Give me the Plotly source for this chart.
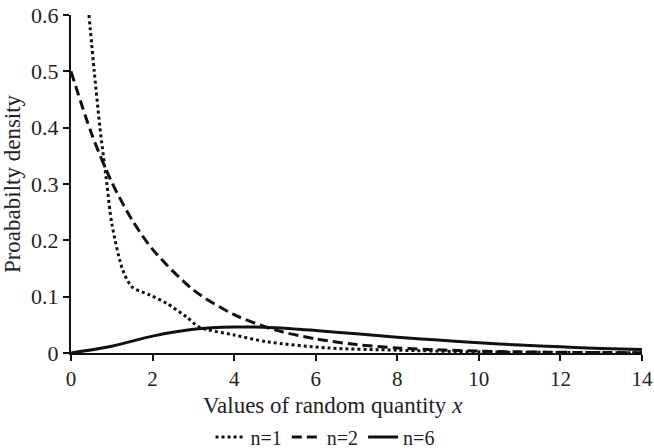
import plotly.graph_objects as go

# n=1 curve
x_n1 = [0.44, 0.57, 0.71, 0.88, 1.0, 1.27, 1.5, 1.93, 2.35, 2.83, 3.15, 4.0, 4.8, 6.3, 8.0, 10.0, 12.0, 14.0]
y_n1 = [0.6, 0.5, 0.4, 0.3, 0.23, 0.147, 0.117, 0.103, 0.088, 0.064, 0.046, 0.032, 0.02, 0.009, 0.005, 0.002, 0.001, 0.0005]

# n=2 curve
x_n2 = [0, 0.5, 1, 1.5, 2, 3, 4, 5, 6, 7, 8, 9, 10, 11, 12, 13, 14]
y_n2 = [0.5, 0.39, 0.303, 0.236, 0.184, 0.112, 0.068, 0.041, 0.025, 0.015, 0.009, 0.0056, 0.0034, 0.002, 0.0012, 0.0008, 0.0005]

# n=6 curve
x_n6 = [0, 1, 2, 3, 4, 5, 6, 7, 8, 9, 10, 11, 12, 13, 14]
y_n6 = [0, 0.012, 0.03, 0.042, 0.046, 0.045, 0.040, 0.034, 0.028, 0.023, 0.018, 0.014, 0.011, 0.008, 0.006]

x_ticks = [0, 2, 4, 6, 8, 10, 12, 14]
y_ticks = [0, 0.1, 0.2, 0.3, 0.4, 0.5, 0.6]
y_tick_labels = ["0", "0.1", "0.2", "0.3", "0.4", "0.5", "0.6"]

FONT = "Liberation Serif"

fig = go.Figure()
fig.add_trace(go.Scatter(x=x_n1, y=y_n1, mode="lines", name="n=1",
                         line=dict(color="#111", width=3, dash="dot", shape="spline", smoothing=0.8)))
fig.add_trace(go.Scatter(x=x_n2, y=y_n2, mode="lines", name="n=2",
                         line=dict(color="#111", width=3, dash="10px,5px", shape="spline", smoothing=0.8)))
fig.add_trace(go.Scatter(x=x_n6, y=y_n6, mode="lines", name="n=6",
                         line=dict(color="#111", width=3, shape="spline", smoothing=0.8)))

fig.update_layout(
    width=654, height=448,
    margin=dict(l=71, r=12, t=15, b=95),
    plot_bgcolor="white", paper_bgcolor="white",
    font=dict(family=FONT, color="#222", size=20),
    showlegend=True,
    legend=dict(orientation="h", xref="container", yref="container",
                x=0.497, xanchor="center", y=0.0246, yanchor="middle",
                font=dict(size=20, family=FONT), itemwidth=30,
                bgcolor="rgba(0,0,0,0)"),
    annotations=[dict(text="Values of random quantity <i>x</i>", xref="paper", yref="paper",
                      x=(333 - 71) / 571, y=-0.113, xanchor="center", yanchor="top",
                      showarrow=False, font=dict(size=23, family=FONT))],
)
fig.update_xaxes(range=[0, 14], tickvals=x_ticks, showgrid=False, zeroline=False,
                 showline=True, linecolor="#111", linewidth=2,
                 ticks="outside", ticklen=6, tickwidth=2, tickcolor="#111",
                 tickfont=dict(size=21, family=FONT), automargin=False,
                 ticklabeloverflow="allow")
fig.update_yaxes(range=[0, 0.6], tickvals=y_ticks, ticktext=y_tick_labels, showgrid=False, zeroline=False,
                 showline=True, linecolor="#111", linewidth=2,
                 ticks="outside", ticklen=6, tickwidth=2, tickcolor="#111",
                 tickfont=dict(size=22, family=FONT), automargin=False,
                 title=dict(text="Proababilty density", font=dict(size=23, family=FONT), standoff=6))

fig.write_html("out.html")
